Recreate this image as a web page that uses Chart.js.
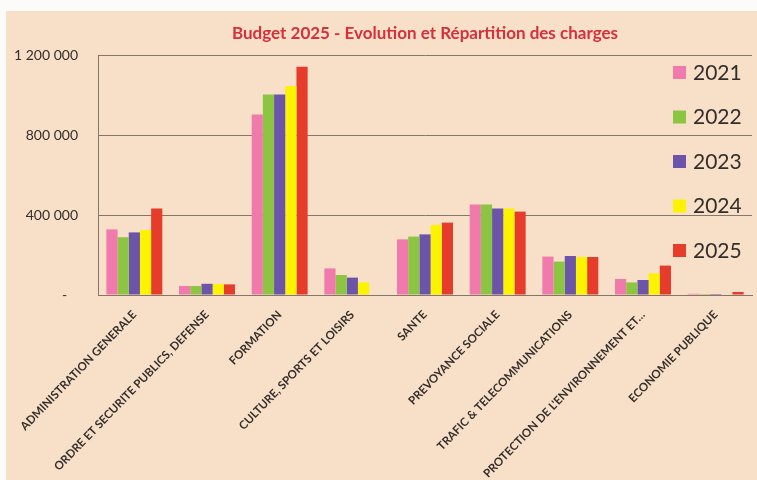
<!DOCTYPE html>
<html lang="fr">
<head>
<meta charset="utf-8">
<title>Budget 2025 - Evolution et Répartition des charges</title>
<script src="https://cdn.jsdelivr.net/npm/chart.js@4.4.1/dist/chart.umd.min.js"></script>
<style>
  html, body {
    margin: 0;
    padding: 0;
    background: #fdfbf9;
  }
  .chart-wrap {
    position: absolute;
    left: 6px;
    top: 11px;
    width: 751px;
    height: 469px;
    background: #f8dfc8;
  }
</style>
</head>
<body>
<div class="chart-wrap">
  <canvas id="budgetChart"></canvas>
</div>
<script>
/* ========================================= */
/* DATA                                      */
/* ========================================= */
const categories = [
  "ADMINISTRATION GENERALE",
  "ORDRE ET SECURITE PUBLICS, DEFENSE",
  "FORMATION",
  "CULTURE, SPORTS ET LOISIRS",
  "SANTE",
  "PREVOYANCE SOCIALE",
  "TRAFIC & TELECOMMUNICATIONS",
  "PROTECTION DE L'ENVIRONNEMENT ET…",
  "ECONOMIE PUBLIQUE",
];

const years = ["2021", "2022", "2023", "2024", "2025"];

const values2021 = [328000, 45000, 903000, 133000, 278000, 453000, 192000, 80000, 6000];
const values2022 = [289000, 45000, 1003000, 100000, 292000, 453000, 167000, 63000, 5000];
const values2023 = [313000, 56000, 1003000, 87000, 303000, 433000, 195000, 75000, 5000];
const values2024 = [325000, 55000, 1045000, 63000, 350000, 433000, 190000, 108000, 3000];
const values2025 = [433000, 53000, 1141000, 0, 362000, 417000, 190000, 147000, 15000];

const yTicks = [0, 400000, 800000, 1200000];

/* ========================================= */
/* STYLE                                     */
/* ========================================= */
const seriesColors = ["#f07aab", "#8cc542", "#6c54a8", "#fbf300", "#e53c2c"];
const textColor = "#332e2b";
const gridColor = "#85766c";

// "1 200 000" style, and a dash for zero (accounting format)
function formatTick(value) {
  if (value === 0) return "-   ";
  return String(value).replace(/\B(?=(\d{3})+(?!\d))/g, " ");
}

// Legend drawn inside the plot area, on the right, over the gridlines
const insideLegend = {
  id: "insideLegend",
  afterDraw(chart) {
    const { ctx, chartArea } = chart;
    const boxX = chartArea.right - 79;
    ctx.save();
    ctx.font = "21px Lato";
    ctx.textBaseline = "middle";
    ctx.textAlign = "left";
    chart.data.datasets.forEach((ds, i) => {
      const y = chartArea.top + 17 + i * 44.5;
      ctx.fillStyle = ds.backgroundColor;
      ctx.fillRect(boxX, y - 6, 13, 13);
      ctx.fillStyle = textColor;
      ctx.fillText(ds.label, boxX + 20, y + 1);
    });
    ctx.restore();
  },
};

/* ========================================= */
/* CHART                                     */
/* ========================================= */
const seriesValues = [values2021, values2022, values2023, values2024, values2025];

new Chart(document.getElementById("budgetChart"), {
  type: "bar",
  data: {
    labels: categories,
    datasets: years.map((year, i) => ({
      label: year,
      data: seriesValues[i],
      backgroundColor: seriesColors[i],
      borderWidth: 0,
      categoryPercentage: 0.77,
      barPercentage: 1.0,
    })),
  },
  options: {
    responsive: true,
    maintainAspectRatio: false,
    animation: false,
    layout: {
      padding: { top: 0, right: 5, bottom: 0, left: 0 },
    },
    plugins: {
      legend: { display: false },
      tooltip: { enabled: false },
      title: {
        display: true,
        fullSize: false,
        text: "Budget 2025 - Evolution et Répartition des charges",
        color: "#d6303b",
        font: { family: "Lato", size: 17, weight: "bold", lineHeight: 1.2 },
        padding: { top: 12, bottom: 11.6 },
      },
    },
    scales: {
      x: {
        grid: { display: false, drawTicks: false },
        border: { display: true, color: gridColor, width: 1 },
        ticks: {
          autoSkip: false,
          maxRotation: 46,
          minRotation: 46,
          padding: 13,
          color: textColor,
          font: { family: "Lato", size: 11.5, weight: "bold" },
        },
        afterFit(scale) {
          // long rotated labels may run off the left edge, as in the original
          scale.height = 185;
          scale.paddingLeft = 0;
          scale.paddingRight = 0;
        },
      },
      y: {
        min: 0,
        max: 1200000,
        afterBuildTicks(scale) {
          scale.ticks = yTicks.map((v) => ({ value: v }));
        },
        grid: { color: gridColor, lineWidth: 1, drawTicks: false },
        border: { display: true, color: gridColor, width: 1 },
        ticks: {
          padding: 20,
          color: textColor,
          font: { family: "Lato", size: 14 },
          callback: (value) => formatTick(value),
        },
        afterFit(scale) {
          scale.width = 92;
        },
      },
    },
  },
  plugins: [insideLegend],
});
</script>
</body>
</html>
